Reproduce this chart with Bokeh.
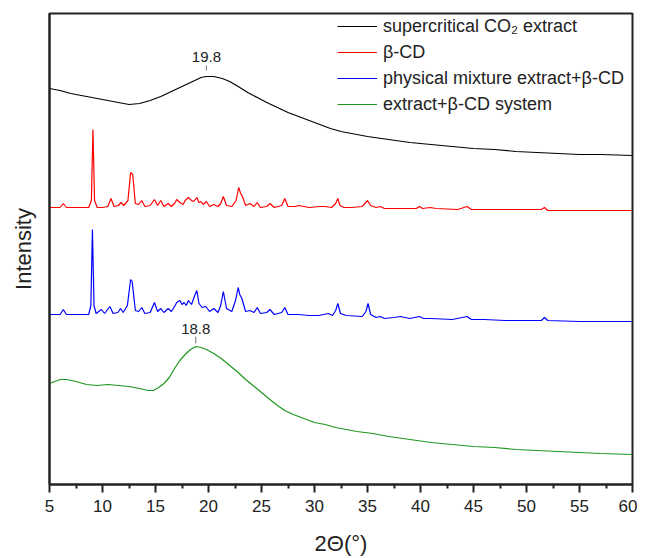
from bokeh.plotting import figure
from bokeh.models import Range1d, FixedTicker, Legend, LegendItem, ColumnDataSource
from bokeh.core.properties import value
from bokeh.embed import file_html
from bokeh.resources import INLINE

# ---- data (2-theta in degrees, intensity in arbitrary units, offset stacked) ----
co2_x = [5, 6, 7, 8, 9, 10, 11, 12, 12.5, 13.5, 14.5, 15.5, 16.5, 17.5, 18.5, 19.3, 19.8, 20.5, 21.3, 22,
         22.8, 23.7, 24.6, 25.5, 26.5, 27.5, 28.5, 29.5, 30.5, 31.5, 32.5, 33.5, 35, 37, 39, 41, 43, 45, 47,
         49, 51, 53, 55, 57, 60]
co2_y = [396, 394, 391, 389, 387, 385, 383, 381, 380, 381, 384, 388, 393, 398, 403, 407, 408, 408, 406, 403,
         398, 392, 387, 382, 377, 372, 368, 364, 360, 356, 353, 351, 348, 345, 342, 340, 338, 336, 335,
         333, 332, 331, 330, 330, 329]

bcd_x = [5.0, 6.0, 6.3, 6.6, 8.7, 8.95, 9.1, 9.25, 9.5, 10.0, 10.5, 10.8, 11.1, 11.5, 11.75, 12.0, 12.4, 12.65,
         12.85, 13.1, 13.4, 13.7, 14.0, 14.5, 14.9, 15.2, 15.5, 15.8, 16.2, 16.5, 16.8, 17.0, 17.3, 17.6, 17.8,
         18.1, 18.4, 18.6, 18.9, 19.1, 19.3, 19.5, 19.8, 20.1, 20.5, 20.9, 21.15, 21.4, 21.7, 22.2, 22.6, 22.85,
         23.0, 23.2, 23.5, 23.9, 24.3, 24.6, 24.9, 25.5, 25.8, 26.2, 26.9, 27.2, 27.5, 28.2, 28.5, 29.0, 29.5,
         30.5, 31.0, 31.6, 32.0, 32.2, 32.4, 32.8, 33.5, 34.5, 35.0, 35.3, 35.8, 36.2, 36.6, 37.5, 38.5, 39.6,
         39.9, 40.2, 40.9, 41.5, 43.5, 44.4, 44.8, 46, 48, 50, 51.4, 51.7, 52.0, 55, 58, 60]
bcd_y = [277, 277, 281, 277, 277, 284, 355, 284, 277, 277, 278, 286, 278, 279, 282, 279, 284, 312,
         310, 281, 280, 284, 278, 279, 285, 279, 284, 278, 281, 278, 281, 285, 282, 280, 284,
         287, 284, 283, 287, 282, 283, 280, 283, 278, 280, 278, 281, 288, 279, 278, 284, 297,
         292, 288, 279, 281, 278, 282, 277, 278, 281, 277, 279, 286, 278, 278, 279, 278, 277,
         278, 278, 277, 281, 286, 279, 277, 277, 278, 284, 279, 277, 278, 276, 276, 276, 276,
         278, 276, 277, 276, 275, 278, 275, 275, 275, 275, 275, 277, 274, 274, 274, 274]

mix_x = [5.0, 6.0, 6.3, 6.6, 8.7, 8.9, 9.05, 9.2, 9.4, 9.9, 10.2, 10.7, 11.0, 11.45, 11.7, 11.95, 12.35, 12.65,
         12.8, 13.1, 13.4, 13.7, 14.0, 14.5, 14.9, 15.2, 15.5, 15.8, 16.2, 16.5, 16.8, 17.0, 17.3, 17.5, 17.7,
         17.9, 18.1, 18.4, 18.7, 18.9, 19.1, 19.4, 19.75, 20.1, 20.5, 20.9, 21.15, 21.4, 21.7, 22.2, 22.55, 22.8,
         22.95, 23.15, 23.5, 23.9, 24.3, 24.6, 24.9, 25.5, 25.8, 26.2, 26.9, 27.2, 27.5, 28.5, 29.5, 30.4, 31.3,
         31.7, 32.0, 32.2, 32.45, 33, 34.5, 34.85, 35.05, 35.3, 35.8, 36.2, 36.6, 37.5, 38.1, 39, 39.9, 40.3,
         41, 43, 44.4, 44.8, 46, 48, 50, 51.4, 51.7, 52.0, 55, 58, 60]
mix_y = [170, 170, 175, 170, 170, 179, 255, 179, 171, 175, 171, 178, 171, 172, 176, 172, 179, 205,
         203, 174, 173, 177, 171, 172, 182, 173, 176, 172, 176, 173, 178, 182, 184, 180, 182,
         179, 184, 180, 189, 194, 181, 177, 178, 173, 176, 172, 179, 193, 176, 173, 184, 197,
         190, 186, 173, 174, 172, 177, 171, 172, 175, 170, 172, 177, 170, 170, 169, 169, 171,
         169, 174, 181, 171, 169, 168, 173, 181, 170, 167, 168, 166, 167, 168, 166, 168, 166,
         166, 165, 168, 165, 165, 164, 164, 164, 167, 164, 163, 163, 163]

sys_x = [5, 5.5, 6, 6.6, 7.5, 8.5, 9.5, 10.5, 11.5, 12.5, 13.5, 14.3, 14.8, 15.3, 15.8, 16.3, 16.8, 17.3, 17.8,
         18.3, 18.8, 19.3, 19.8, 20.5, 21.2, 22, 22.8, 23.5, 24.2, 25, 25.8, 26.5, 27.2, 28, 29, 30, 31, 32, 33,
         34, 35.5, 37, 39, 41, 43, 45, 47, 49, 51, 53, 55, 57, 60]
sys_y = [101, 103, 105, 105, 103, 100, 99, 100, 99, 98, 96, 94, 94, 97, 101, 107, 116, 124, 130,
         135, 138, 137, 135, 131, 126, 119, 112, 105, 99, 92, 85, 79, 74, 70, 66, 62, 60, 57, 55,
         53, 51, 48, 45, 42, 40, 38, 37, 35, 34, 33, 32, 31, 30]

series_names = ["supercritical CO\u2082 extract", "\u03b2-CD", "physical mixture extract+\u03b2-CD",
                "extract+\u03b2-CD system"]
series_colors = ["#000000", "#ff0000", "#0000ff", "#1e961e"]

peak_x = [19.8, 18.8]
peak_labels = ["19.8", "18.8"]
peak_label_y = [428, 156]
peak_tick_top = [419, 148]
peak_tick_bottom = [414, 141]

x_ticks = [5, 10, 15, 20, 25, 30, 35, 40, 45, 50, 55, 60]

FONT = "Liberation Sans"
TXT = "#222222"

p = figure(width=637, height=558, output_backend="svg", toolbar_location=None,
           x_range=Range1d(5, 60), y_range=Range1d(0, 471),
           min_border_left=49, min_border_right=5, min_border_top=13, min_border_bottom=74)
p.background_fill_color = "white"
p.border_fill_color = "white"
p.xgrid.visible = False
p.ygrid.visible = False
p.outline_line_color = "#222222"
p.outline_line_width = 2

renderers = []
for xs, ys, c in zip([co2_x, bcd_x, mix_x, sys_x], [co2_y, bcd_y, mix_y, sys_y], series_colors):
    r = p.line(xs, ys, line_color=c, line_width=1.2)
    renderers.append(r)

src = ColumnDataSource(dict(x=peak_x, t=peak_labels, ly=peak_label_y, y0=peak_tick_top, y1=peak_tick_bottom))
p.segment(x0="x", y0="y0", x1="x", y1="y1", source=src, line_color="#777777", line_width=1)
p.text(x="x", y="ly", text="t", source=src, text_align="center", text_baseline="middle",
       text_font=value(FONT), text_font_size="15px", text_color=TXT)

# x axis
xa = p.xaxis[0]
xa.ticker = FixedTicker(ticks=x_ticks, minor_ticks=[7.5 + 5 * i for i in range(11)])
xa.axis_label = "2\u0398(\u00b0)"
xa.axis_label_text_font = FONT
xa.axis_label_text_font_size = "22px"
xa.axis_label_text_font_style = "normal"
xa.axis_label_text_color = TXT
xa.axis_label_standoff = 16
xa.major_label_text_font = FONT
xa.major_label_text_font_size = "17px"
xa.major_label_text_color = TXT
xa.major_label_standoff = 7
xa.axis_line_width = 2
xa.axis_line_color = "#222222"
xa.major_tick_line_width = 2
xa.major_tick_line_color = "#222222"
xa.minor_tick_line_width = 2
xa.minor_tick_line_color = "#222222"
xa.major_tick_in = 0
xa.major_tick_out = 8
xa.minor_tick_in = 0
xa.minor_tick_out = 4

# y axis
ya = p.yaxis[0]
ya.ticker = FixedTicker(ticks=[])
ya.axis_label = "Intensity"
ya.axis_label_text_font = FONT
ya.axis_label_text_font_size = "22px"
ya.axis_label_text_font_style = "normal"
ya.axis_label_text_color = TXT
ya.axis_label_standoff = 14
ya.major_tick_in = 0
ya.major_tick_out = 0
ya.minor_tick_in = 0
ya.minor_tick_out = 0
ya.major_label_standoff = 0
ya.axis_line_width = 2
ya.axis_line_color = "#222222"

legend = Legend(items=[LegendItem(label=n, renderers=[r]) for n, r in zip(series_names, renderers)],
                location=(288, 369), orientation="vertical")
legend.label_text_font = FONT
legend.label_text_font_size = "18px"
legend.label_text_color = TXT
legend.glyph_width = 40
legend.glyph_height = 22
legend.label_height = 22
legend.label_standoff = 6
legend.spacing = 4
legend.padding = 0
legend.margin = 0
legend.border_line_color = None
legend.background_fill_alpha = 0
p.add_layout(legend)

open("out.html", "w").write(file_html(p, INLINE))
